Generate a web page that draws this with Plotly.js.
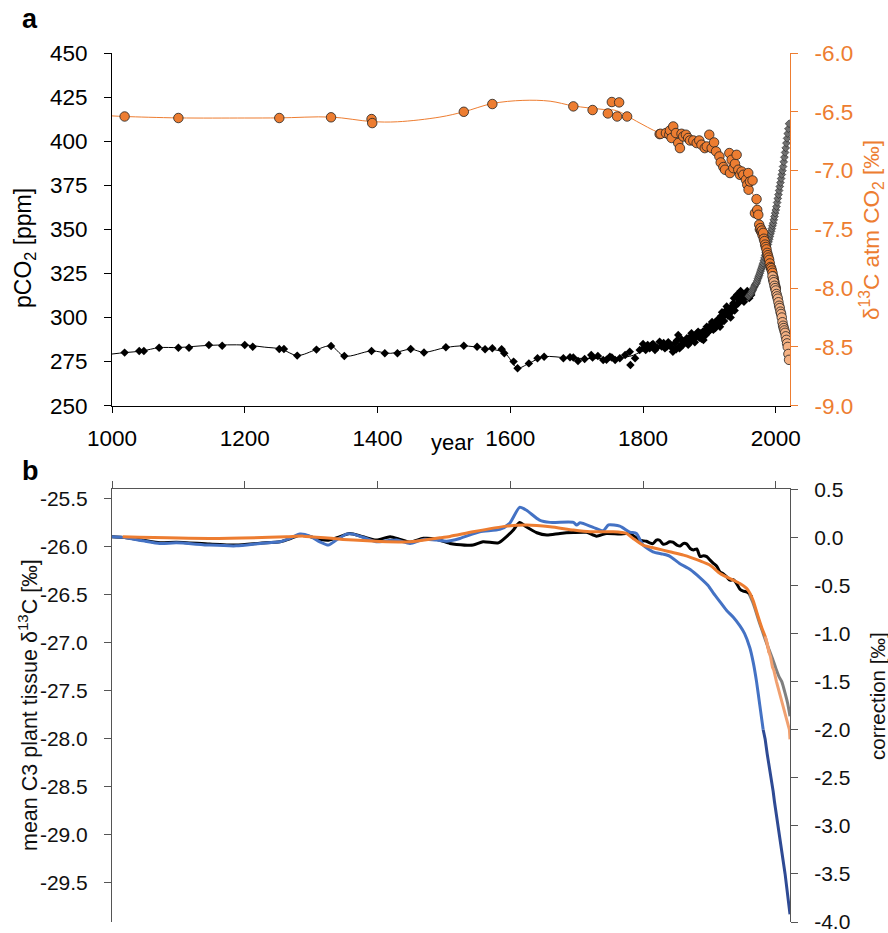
<!DOCTYPE html>
<html><head><meta charset="utf-8">
<script src="https://cdn.plot.ly/plotly-3.0.1.min.js"></script>
<style>html,body{margin:0;padding:0;background:#fff}#chart{width:888px;height:933px}</style>
</head><body><div id="chart"></div>
<script>
// ---------- panel a : pCO2 (black diamonds, pre-1960) ----------
const pco2Years = [1019,1041,1048,1071,1100,1116,1146,1166,1200,1212,1252,1259,1279,1308,1330,1350,1391,1411,1430,1450,1470,1503,1530,1550,1562,1573,1587,1591,1605,1611,1628,1641,1651,1680,1690,1695,1702,1712,1722,1724,1732,1740,1745,1750,1753,1758,1765,1773,1780,1781,1788,1795,1800,1804,1813,1818,1825,1828,1836,1840,1845,1848,1850,1853,1856,1860,1863,1866,1870,1873,1876,1880,1883,1886,1888,1891,1893,1896,1899,1903,1906,1908,1911,1913,1916,1918,1921,1923,1926,1928,1931,1933,1936,1938,1941,1943,1946,1948,1951,1953,1956,1958,1961,1963];
const pco2Vals  = [280.1,281.0,281.0,282.9,282.9,282.9,284.4,284.0,284.4,283.4,282.1,282.1,278.4,281.8,283.9,278.2,281.0,279.7,279.7,282.1,280.2,283.1,284.0,283.4,282.0,282.6,282.0,279.7,275.0,271.2,274.0,276.9,277.8,276.9,277.5,277.3,275.4,276.5,278.8,277.3,278.2,275.9,276.1,277.8,277.3,275.9,276.9,278.8,280.6,273.1,276.9,281.6,285.0,281.6,284.4,281.6,286.3,283.5,283.5,285.0,280.6,285.4,282.0,290.1,284.0,284.4,286.0,288.2,285.5,291.1,287.3,289.0,292.0,291.1,288.0,287.3,292.5,294.8,292.0,296.0,293.0,297.0,296.8,299.0,294.8,301.0,300.5,303.0,306.2,301.0,302.4,306.0,308.1,304.0,311.9,308.0,313.8,310.0,311.0,312.0,314.0,312.0,313.8,312.8];
// further pCO2 records in the dense 1800-1960 band
const pco2BandYears = [1802,1807,1810,1815,1821,1831,1833,1838,1843,1851,1855,1858,1862,1868,1871,1875,1878,1881,1885,1890,1894,1897,1901,1904,1909,1914,1917,1919,1922,1925,1927,1930,1932,1935,1937,1940,1942,1945,1947,1950,1952,1955,1957,1960];
const pco2BandVals  = [283.0,284.5,282.5,285.0,283.0,285.5,282.5,286.0,283.0,287.0,282.5,287.5,286.5,284.5,289.0,289.5,286.0,291.0,288.5,292.0,290.0,291.5,294.0,297.5,294.0,298.0,297.0,303.0,298.0,304.0,302.0,305.0,300.0,305.0,311.0,307.0,313.0,310.0,315.0,313.0,309.0,312.0,315.0,311.0];
// pCO2 (grey diamonds, annual 1959-2020)
const mloYears = [1959,1960,1961,1962,1963,1964,1965,1966,1967,1968,1969,1970,1971,1972,1973,1974,1975,1976,1977,1978,1979,1980,1981,1982,1983,1984,1985,1986,1987,1988,1989,1990,1991,1992,1993,1994,1995,1996,1997,1998,1999,2000,2001,2002,2003,2004,2005,2006,2007,2008,2009,2010,2011,2012,2013,2014,2015,2016,2017,2018,2019,2020];
const mloVals  = [312.0,312.5,313.0,313.4,313.8,314.6,315.4,316.2,317.0,317.8,318.6,319.2,319.6,320.8,322.0,323.0,324.0,325.1,326.3,327.4,328.5,329.7,330.8,332.3,333.8,335.3,336.9,338.4,339.9,341.4,342.9,344.4,345.9,347.4,348.9,350.4,352.0,353.5,355.4,357.3,359.2,361.0,362.9,365.2,367.5,369.7,372.0,374.3,376.5,378.8,381.1,383.3,385.6,388.3,390.9,393.6,396.2,398.9,401.6,404.3,407.0,409.9];
// pCO2 smooth fit
const pco2FitYears = [1000,1019,1045,1071,1100,1146,1200,1230,1255,1279,1308,1330,1350,1391,1420,1450,1470,1503,1530,1560,1591,1611,1628,1650,1690,1740,1780,1800,1830,1860,1890,1920,1950,1965];
const pco2FitVals  = [279.3,280.1,281.0,282.9,283.0,284.2,284.4,283.2,282.1,278.5,281.8,283.8,278.2,281.0,279.7,282.0,280.3,283.0,283.9,282.6,280.0,271.5,274.0,277.7,277.0,276.8,278.0,281.0,284.0,286.0,290.5,300.0,311.0,316.0];

// δ13C atm CO2 (orange circles)
const d13Years = [1019,1100,1252,1330,1391,1392,1530,1573,1695,1724,1747,1753,1761,1764,1776,
  1825,1826.5,1834.5,1839.5,1840.5,1843,1845.5,1849.5,1853,1855.6,1858,1860.6,1864.6,1868,1870.7,1875.7,1880.8,1884.7,1888,1893,1896,1899.8,1903.4,1907,1910,1915,1917,1921,1923.5,1930,1931,1933.5,1936,1938.5,1941,1943.5,1946,1948.6,1951,1955,1957,1958.5,1959,1961,1965,1968.6,1971,1972,1973.6,
  1975,1976,1977,1978,1979,1980,1981,1982,1983,1984,1985,1986,1987,1988,1989,1990,1991,1992,1993,1994,1995,1996,1997,1998,1999,2000];
const d13Vals = [-6.540,-6.553,-6.553,-6.547,-6.562,-6.596,-6.500,-6.434,-6.454,-6.485,-6.514,-6.417,-6.540,-6.420,-6.540,
  -6.690,-6.687,-6.681,-6.695,-6.659,-6.723,-6.625,-6.681,-6.766,-6.809,-6.687,-6.710,-6.695,-6.723,-6.744,-6.744,-6.766,-6.744,-6.780,-6.809,-6.795,-6.695,-6.809,-6.761,-6.837,-6.880,-6.931,-6.970,-6.993,-6.851,-7.021,-6.908,-6.979,-6.942,-6.866,-6.993,-7.036,-7.008,-7.036,-7.078,-7.120,-7.021,-7.163,-7.093,-7.084,-7.362,-7.243,-7.334,-7.376,
  -7.46,-7.50,-7.49,-7.52,-7.51,-7.55,-7.53,-7.58,-7.60,-7.63,-7.65,-7.67,-7.70,-7.72,-7.74,-7.76,-7.79,-7.82,-7.83,-7.85,-7.87,-7.90,-7.92,-7.95,-7.98,-8.00];
// δ13C atm CO2 (light orange circles, recent)
const d13RecentYears = [1995,1996,1997,1998,1999,2000,2001,2002,2003,2004,2005,2006,2007,2008,2009,2010,2011,2012,2013,2014,2015,2016,2017,2018,2019,2020];
const d13RecentVals  = [-7.90,-7.93,-7.95,-7.98,-8.00,-8.02,-8.05,-8.07,-8.09,-8.12,-8.15,-8.17,-8.20,-8.22,-8.25,-8.29,-8.32,-8.34,-8.36,-8.38,-8.41,-8.44,-8.47,-8.50,-8.56,-8.61];
// δ13C smooth fit
const d13FitYears = [1000,1019,1100,1200,1252,1330,1391,1430,1494,1530,1573,1619,1660,1695,1740,1760,1790,1825,1870,1900,1930,1955,1970,1980,1990,2000,2010,2020];
const d13FitVals  = [-6.535,-6.540,-6.552,-6.553,-6.552,-6.545,-6.583,-6.585,-6.545,-6.500,-6.430,-6.403,-6.410,-6.450,-6.480,-6.490,-6.580,-6.680,-6.750,-6.820,-6.950,-7.070,-7.280,-7.500,-7.750,-8.000,-8.300,-8.600];

// ---------- panel b : correction [‰] ----------
const blackYears = [1000,1016,1047,1072,1097,1147,1187,1223,1253,1268,1283,1298,1313,1326,1340,1358,1378,1398,1419,1434,1449,1469,1489,1509,1519,1544,1559,1582,1594,1605,1614,1624,1640,1655,1675,1695,1715,1730,1745,1765,1780,1795,1805,1810,1815,1820,1825,1830,1835,1840,1845,1851,1856,1861,1866,1871,1876,1881,1886,1891,1896,1901,1906,1911,1916,1921,1926,1931,1936,1941,1946,1951,1956,1959,1964];
const blackVals  = [0.006,0.0,-0.03,-0.055,-0.05,-0.07,-0.08,-0.06,-0.045,-0.015,0.025,0.01,-0.02,-0.03,0.0,0.041,0.006,-0.028,0.006,-0.021,-0.05,-0.01,-0.02,-0.063,-0.073,-0.08,-0.046,-0.057,0.006,0.08,0.156,0.11,0.048,0.024,0.041,0.05,0.052,0.013,0.041,0.034,0.041,-0.03,-0.04,-0.057,-0.065,-0.028,-0.03,-0.07,-0.065,-0.046,-0.05,-0.08,-0.09,-0.063,-0.07,-0.115,-0.13,-0.12,-0.2,-0.19,-0.2,-0.237,-0.27,-0.30,-0.36,-0.38,-0.411,-0.445,-0.44,-0.48,-0.54,-0.56,-0.567,-0.58,-0.62];
const greyYears = [1960,1965,1970,1975,1980,1985,1990,1995,2000,2005,2009,2014,2018,2021.4];
const greyVals  = [-0.59,-0.67,-0.77,-0.88,-0.98,-1.08,-1.17,-1.26,-1.36,-1.45,-1.50,-1.62,-1.73,-1.86];
const blueYears = [1000,1016,1047,1072,1097,1147,1187,1223,1253,1268,1283,1298,1313,1326,1338,1353,1363,1383,1398,1414,1429,1449,1469,1489,1504,1524,1554,1584,1599,1614,1624,1644,1660,1695,1700,1705,1725,1740,1748,1765,1780,1790,1800,1815,1830,1840,1855,1871,1886,1898,1906,1916,1926,1936,1946,1953,1961,1966,1971,1976,1981];
const blueVals  = [0.006,0.0,-0.036,-0.063,-0.057,-0.08,-0.088,-0.063,-0.046,-0.011,0.034,0.013,-0.046,-0.08,-0.028,0.034,0.034,-0.011,-0.046,-0.036,-0.028,-0.063,-0.021,-0.028,-0.04,-0.011,0.058,0.083,0.145,0.312,0.284,0.18,0.156,0.156,0.128,0.152,0.104,0.069,0.13,0.117,0.055,0.041,-0.08,-0.15,-0.174,-0.195,-0.271,-0.334,-0.42,-0.50,-0.58,-0.67,-0.76,-0.83,-0.92,-1.0,-1.15,-1.30,-1.50,-1.75,-2.0];
const navyYears = [1981,1984,1987,1990,1993,1996,1998,2001,2003,2006,2008,2011,2014,2016,2018,2020,2021.4];
const navyVals  = [-2.0,-2.1,-2.25,-2.37,-2.5,-2.64,-2.75,-2.88,-3.0,-3.1,-3.22,-3.36,-3.5,-3.6,-3.7,-3.8,-3.92];
const orangeYears = [1016,1147,1263,1288,1348,1449,1494,1509,1544,1594,1625,1660,1695,1720,1755,1775,1785,1800,1820,1840,1861,1886,1901,1916,1931,1936,1946,1956,1961,1966,1971,1976,1980,1984,1990];
const orangeVals  = [0.006,-0.011,0.006,0.013,-0.021,-0.046,-0.005,0.01,0.058,0.117,0.128,0.11,0.076,0.058,0.058,0.041,-0.011,-0.08,-0.115,-0.15,-0.185,-0.245,-0.289,-0.375,-0.428,-0.445,-0.48,-0.53,-0.58,-0.66,-0.77,-0.88,-0.96,-1.03,-1.2];
const peachYears = [1984,1987,1990,1992,1995,1997,2001,2003,2006,2008,2011,2013,2016,2018,2020.5,2021.4];
const peachVals  = [-1.03,-1.10,-1.2,-1.24,-1.35,-1.38,-1.5,-1.55,-1.63,-1.66,-1.76,-1.80,-1.87,-1.92,-2.0,-2.1];

// tick labels
const xTicks = [1000,1200,1400,1600,1800,2000];
const pco2Ticks = [250,275,300,325,350,375,400,425,450];
const d13Ticks = [-9.0,-8.5,-8.0,-7.5,-7.0,-6.5,-6.0];
const d13TickText = ["-9.0","-8.5","-8.0","-7.5","-7.0","-6.5","-6.0"];
const plantTicks = [-29.5,-29.0,-28.5,-28.0,-27.5,-27.0,-26.5,-26.0,-25.5];
const plantTickText = ["-29.5","-29.0","-28.5","-28.0","-27.5","-27.0","-26.5","-26.0","-25.5"];
const corrTicks = [-4.0,-3.5,-3.0,-2.5,-2.0,-1.5,-1.0,-0.5,0.0,0.5];
const corrTickText = ["-4.0","-3.5","-3.0","-2.5","-2.0","-1.5","-1.0","-0.5","0.0","0.5"];

const ORANGE = '#ED7D31', PEACH = '#F4B183', BLUE = '#4472C4', NAVY = '#2E4A94', GREY = '#7F7F7F';
const blackDiamond = {symbol:'diamond', size:6.5, color:'#000', line:{width:0}};

const traces = [
  {x: pco2FitYears, y: pco2FitVals, xaxis:'x', yaxis:'y', mode:'lines', line:{color:'#000', width:1, shape:'spline', smoothing:1}},
  {x: pco2Years, y: pco2Vals, xaxis:'x', yaxis:'y', mode:'markers', marker:blackDiamond},
  {x: pco2BandYears, y: pco2BandVals, xaxis:'x', yaxis:'y', mode:'markers', marker:blackDiamond},
  {x: mloYears, y: mloVals, xaxis:'x', yaxis:'y', mode:'markers', marker:{symbol:'diamond', size:6, color:'#707070', line:{width:0.6, color:'#222'}}},
  {x: d13FitYears, y: d13FitVals, xaxis:'x', yaxis:'y2', mode:'lines', line:{color:ORANGE, width:1, shape:'spline', smoothing:1}},
  {x: d13Years, y: d13Vals, xaxis:'x', yaxis:'y2', mode:'markers', marker:{symbol:'circle', size:9.5, color:ORANGE, line:{width:0.8, color:'#222'}}},
  {x: d13RecentYears, y: d13RecentVals, xaxis:'x', yaxis:'y2', mode:'markers', marker:{symbol:'circle', size:9.5, color:PEACH, line:{width:0.8, color:'#222'}}},

  // empty trace so that the left axis of panel b is registered
  {x: [], y: [], xaxis:'x2', yaxis:'y3', mode:'lines', hoverinfo:'skip'},
  {x: blackYears, y: blackVals, xaxis:'x2', yaxis:'y4', mode:'lines', line:{color:'#000', width:3, shape:'spline', smoothing:0.6}},
  {x: greyYears, y: greyVals, xaxis:'x2', yaxis:'y4', mode:'lines', line:{color:GREY, width:3, shape:'spline', smoothing:0.6}},
  {x: blueYears, y: blueVals, xaxis:'x2', yaxis:'y4', mode:'lines', line:{color:BLUE, width:3, shape:'spline', smoothing:0.6}},
  {x: navyYears, y: navyVals, xaxis:'x2', yaxis:'y4', mode:'lines', line:{color:NAVY, width:3}},
  {x: orangeYears, y: orangeVals, xaxis:'x2', yaxis:'y4', mode:'lines', line:{color:ORANGE, width:3, shape:'spline', smoothing:0.6}},
  {x: peachYears, y: peachVals, xaxis:'x2', yaxis:'y4', mode:'lines', line:{color:'#F0A070', width:3}}
];

const W = 888, H = 933, ML = 112, MR = 98, MT = 53, MB = 11;
const PW = W - ML - MR, PH = H - MT - MB;
const px = v => (v - ML) / PW;
const py = v => (H - MB - v) / PH;
const FONT = 'Liberation Sans, Arial, sans-serif';
const bDomain = [0, py(489.3)];

const axCommon = {showgrid:false, zeroline:false, showline:true, ticks:'outside', ticklen:7, linewidth:1, ticklabeloverflow:'allow'};

const layout = {
  width: W, height: H,
  margin: {l:ML, r:MR, t:MT, b:MB, pad:0},
  paper_bgcolor:'#fff', plot_bgcolor:'rgba(0,0,0,0)',
  showlegend:false,
  font:{family:FONT, color:'#000', size:20},
  xaxis: Object.assign({}, axCommon, {domain:[0,1], anchor:'y', range:[1000,2021.4], tickvals:xTicks, ticklen:6,
    linecolor:'#000', tickcolor:'#000', tickfont:{size:22.5, color:'#000'}, ticklabelstandoff:6}),
  yaxis: Object.assign({}, axCommon, {domain:[py(405.7),1], anchor:'x', range:[250,450], tickvals:pco2Ticks,
    linecolor:'#000', tickcolor:'#000', tickfont:{size:22.5, color:'#000'}, ticklabelstandoff:12}),
  yaxis2: Object.assign({}, axCommon, {overlaying:'y', side:'right', anchor:'x', range:[-9,-6], tickvals:d13Ticks, ticktext:d13TickText,
    linecolor:ORANGE, tickcolor:ORANGE, tickfont:{size:22.5, color:ORANGE}, ticklabelstandoff:12}),
  xaxis2: Object.assign({}, axCommon, {domain:[0,1], anchor:'y3', side:'top', range:[1000,2021.4], tickvals:xTicks,
    showticklabels:false, linecolor:'#555', tickcolor:'#555'}),
  yaxis3: Object.assign({}, axCommon, {domain:bDomain, anchor:'x2', range:[-29.906,-25.406], tickvals:plantTicks, ticktext:plantTickText,
    linecolor:'#555', tickcolor:'#555', tickfont:{size:21, color:'#111'}, ticklabelstandoff:12}),
  yaxis4: Object.assign({}, axCommon, {domain:bDomain, overlaying:'y3', side:'right', anchor:'x2', range:[-4,0.5], tickvals:corrTicks, ticktext:corrTickText,
    linecolor:'#555', tickcolor:'#555', tickfont:{size:21, color:'#111'}, ticklabelstandoff:12}),
  annotations: [
    {text:'<b>a</b>', x:px(30), y:py(19), xref:'paper', yref:'paper', showarrow:false, font:{size:27, color:'#000'}, xanchor:'center', yanchor:'middle'},
    {text:'<b>b</b>', x:px(30), y:py(471), xref:'paper', yref:'paper', showarrow:false, font:{size:27, color:'#000'}, xanchor:'center', yanchor:'middle'},
    {text:'year', x:px(452), y:py(442), xref:'paper', yref:'paper', showarrow:false, font:{size:22, color:'#000'}, xanchor:'center', yanchor:'middle'},
    {text:'pCO<sub>2</sub> [ppm]', x:px(24), y:py(248), xref:'paper', yref:'paper', showarrow:false, textangle:-90, font:{size:23, color:'#000'}, xanchor:'center', yanchor:'middle'},
    {text:'δ<sup>13</sup>C atm CO<sub>2</sub> [‰]', x:px(871), y:py(230), xref:'paper', yref:'paper', showarrow:false, textangle:-90, font:{size:22.5, color:ORANGE}, xanchor:'center', yanchor:'middle'},
    {text:'mean C3 plant tissue δ<sup>13</sup>C [‰]', x:px(28), y:py(705), xref:'paper', yref:'paper', showarrow:false, textangle:-90, font:{size:21.5, color:'#111'}, xanchor:'center', yanchor:'middle'},
    {text:'correction [‰]', x:px(877), y:py(696), xref:'paper', yref:'paper', showarrow:false, textangle:-90, font:{size:20.5, color:'#111'}, xanchor:'center', yanchor:'middle'}
  ]
};

Plotly.newPlot('chart', traces, layout, {staticPlot:true, displayModeBar:false});
</script></body></html>
